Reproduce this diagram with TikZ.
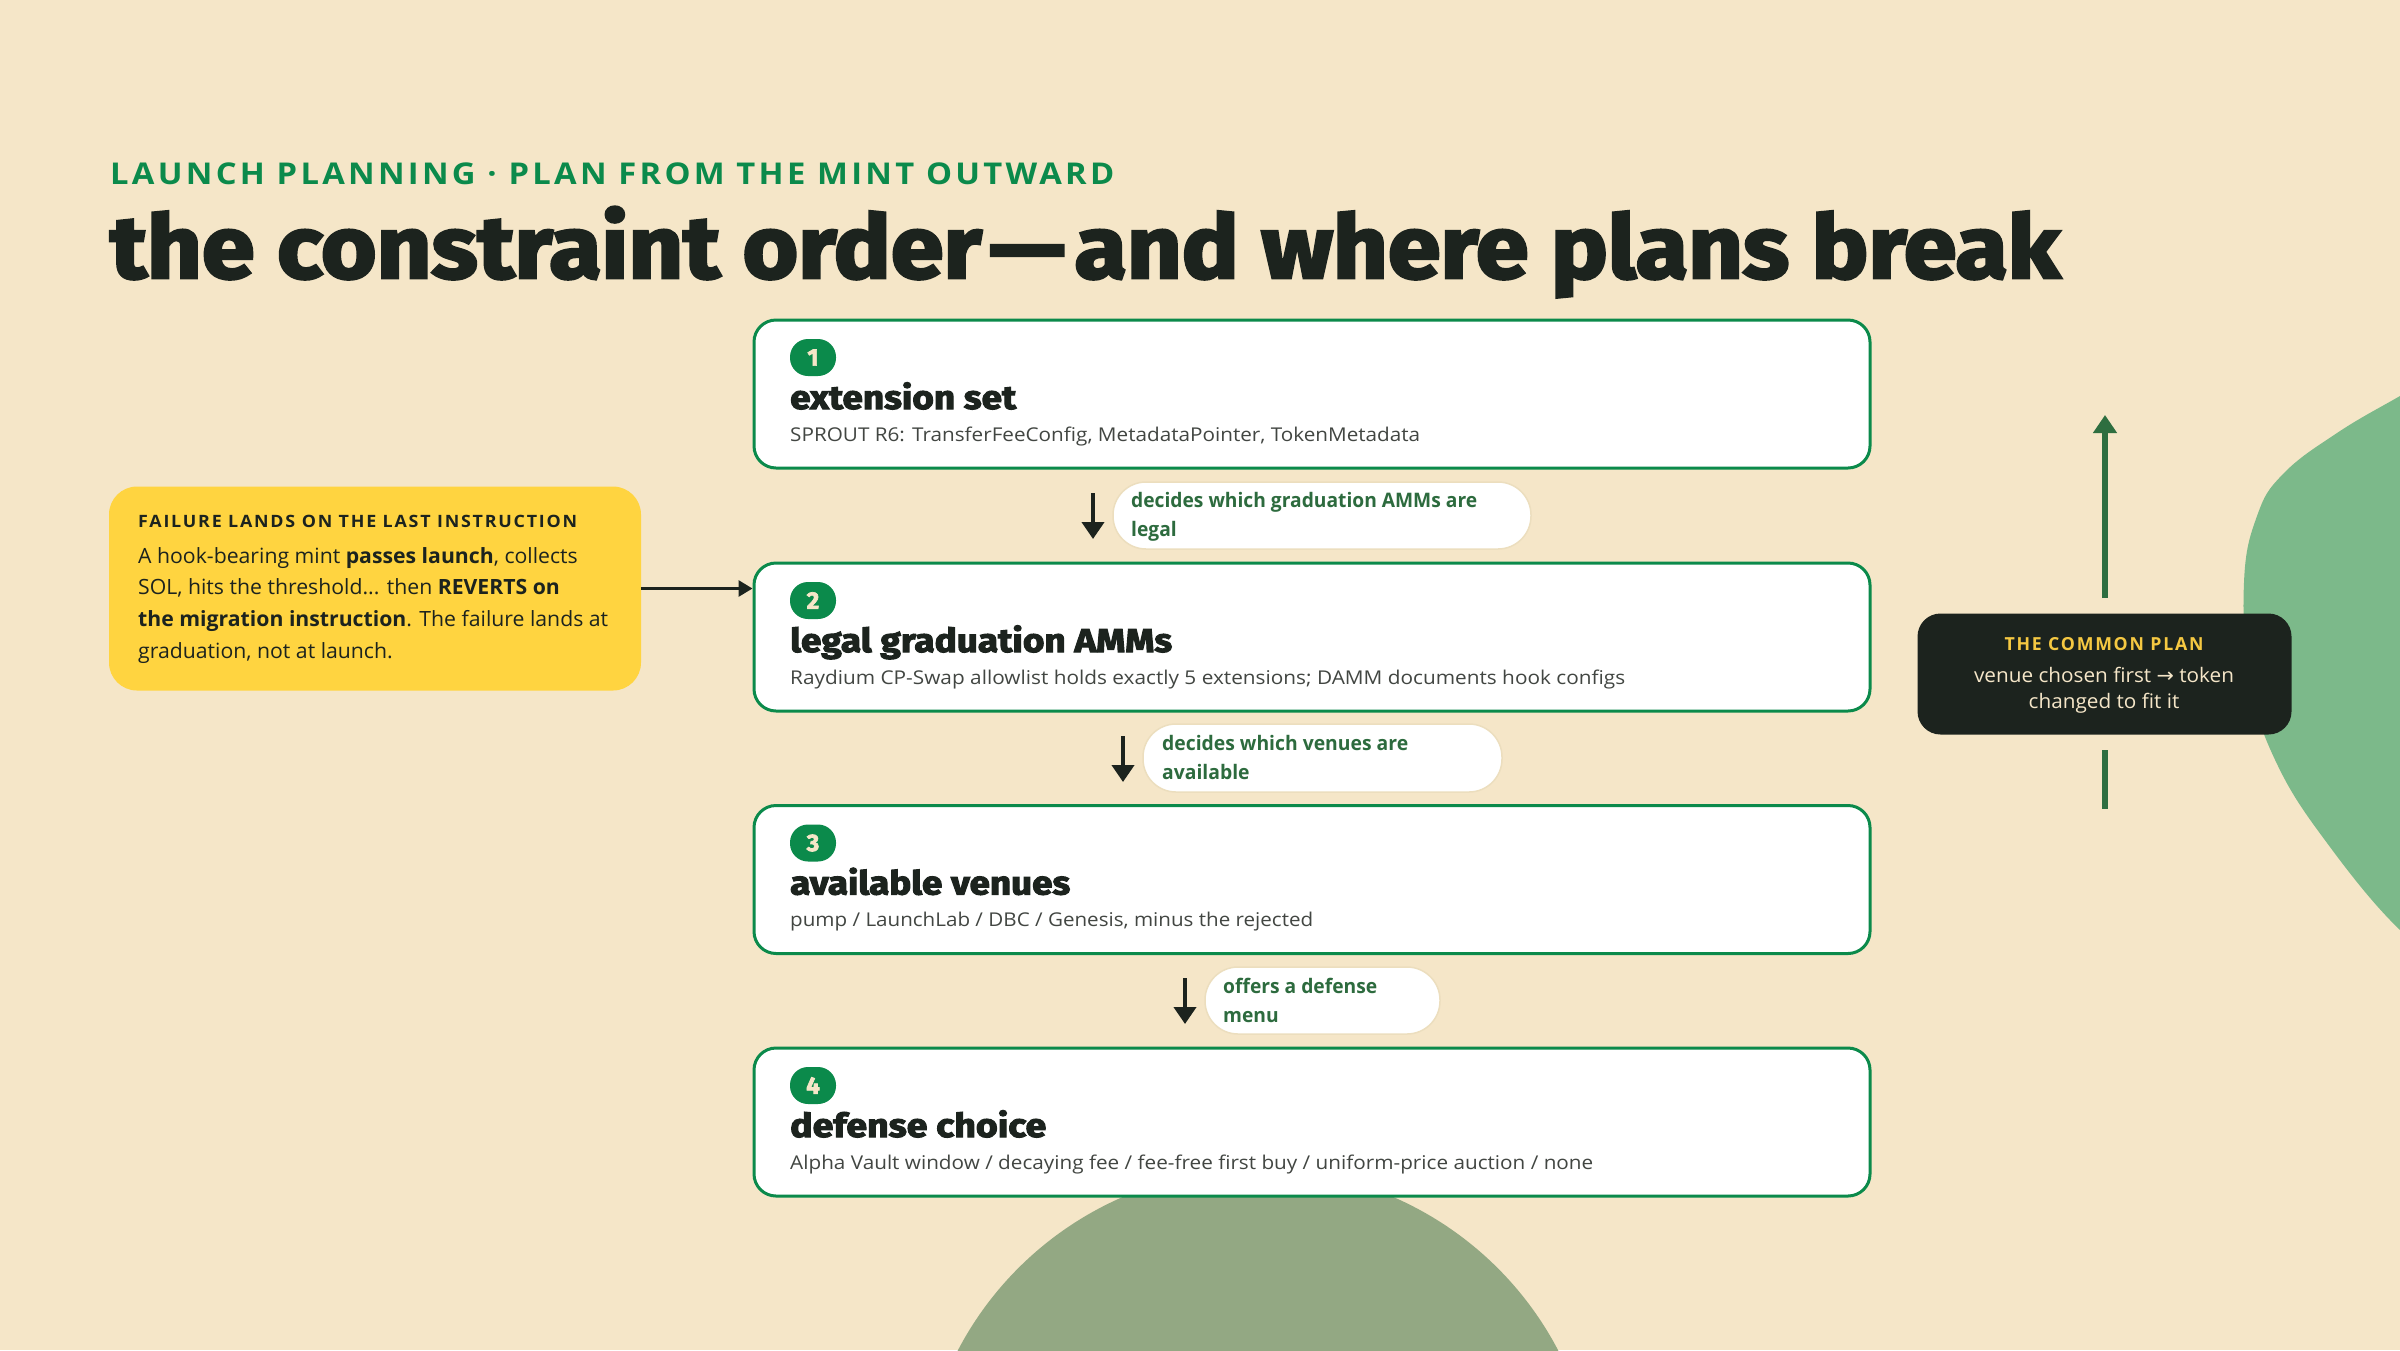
\documentclass[tikz,border=0pt]{standalone}
\usepackage{fontspec}
\usepackage{graphicx}
\usetikzlibrary{arrows.meta}
\setmainfont{Open Sans}
\newfontfamily\headfont{Fira Sans}[FakeBold=3]
\newfontfamily\capsfont{Open Sans}[LetterSpace=10]
\newfontfamily\symfont{DejaVu Sans}
\newcommand\fitw[2]{\resizebox{#1pt}{\height}{#2}}
\definecolor{bgcream}{RGB}{245,230,200}
\definecolor{boxgreen}{RGB}{11,138,75}
\definecolor{inkdark}{RGB}{28,35,30}
\definecolor{subgray}{RGB}{66,70,66}
\definecolor{labgreen}{RGB}{45,107,62}
\definecolor{arrgreen}{RGB}{46,110,64}
\definecolor{sunyellow}{RGB}{255,212,64}
\definecolor{plantitle}{RGB}{245,200,66}
\definecolor{blobgreen}{RGB}{124,185,138}
\definecolor{blobolive}{RGB}{147,168,131}
\definecolor{pilledge}{RGB}{236,222,190}
\tikzset{
  stepbox/.style={draw=boxgreen, line width=3pt, fill=white, rounded corners=22pt,
    minimum width=1116pt, minimum height=148pt, inner sep=0pt},
  badge/.style={fill=boxgreen, text=bgcream, rounded corners=18pt, minimum width=46pt,
    minimum height=37pt, inner sep=0pt, font=\headfont\bfseries\fontsize{24}{24}\selectfont},
  headtxt/.style={anchor=base west, inner sep=0pt, text=inkdark,
    font=\headfont\bfseries\fontsize{33}{36}\selectfont},
  subtxt/.style={anchor=base west, inner sep=0pt, text=subgray, font=\fontsize{19}{23}\selectfont},
  pill/.style={fill=white, draw=pilledge, line width=1.5pt, rounded corners=33pt, inner sep=0pt},
  pilltxt/.style={anchor=base west, inner sep=0pt, text=labgreen, font=\bfseries\fontsize{20}{29}\selectfont},
  darrow/.style={draw=inkdark, line width=4pt, -{Triangle[width=22pt,length=17pt]}},
  sidearrow/.style={draw=inkdark, line width=3pt, -{Triangle[width=16pt,length=14pt]}},
  uparrow/.style={draw=arrgreen, line width=6pt, -{Triangle[width=23pt,length=18pt]}},
  stub/.style={draw=arrgreen, line width=6pt},
}
\begin{document}
\begin{tikzpicture}[x=1pt,y=-1pt]
\fill[bgcream] (0,0) rectangle (2400,1350);
\useasboundingbox (0,0) rectangle (2400,1350);
% background blobs
\begin{scope}
\clip (0,0) rectangle (2400,1350);
\fill[blobgreen] plot[smooth, tension=0.7] coordinates {(2450,368) (2400,396) (2337,433) (2283,474) (2257,516) (2244,582) (2250,680) (2277,764) (2330,847) (2400,930) (2450,962)} -- (2500,962) -- (2500,368) -- cycle;
\fill[blobolive] (1258,1505) ellipse [x radius=338, y radius=336];
\end{scope}
% heading
\node[anchor=base west, inner sep=0pt, text=boxgreen, font=\capsfont\bfseries\fontsize{30}{36}\selectfont] (kicker) at (110,184)
  {\fitw{1004}{LAUNCH PLANNING · PLAN FROM THE MINT OUTWARD}};
\node[anchor=base west, inner sep=0pt, text=inkdark, font=\headfont\bfseries\fontsize{88}{100}\selectfont] (title) at (110,278)
  {\fitw{1950}{the constraint order\kern0.08em—\kern0.1em and where plans break}};
% step boxes
\node[stepbox] (s1) at (1312,394) {};
\node[stepbox] (s2) at (1312,637) {};
\node[stepbox] (s3) at (1312,879.5) {};
\node[stepbox] (s4) at (1312,1122) {};
\node[badge] (b1) at (813,357.5) {1};
\node[badge] (b2) at (813,600.5) {2};
\node[badge] (b3) at (813,843) {3};
\node[badge] (b4) at (813,1085.5) {4};
\node[headtxt] (h1) at (790,409) {\fitw{226}{extension set}};
\node[headtxt] (h2) at (790,652) {\fitw{382}{legal graduation AMMs}};
\node[headtxt] (h3) at (790,894.5) {\fitw{280}{available venues}};
\node[headtxt] (h4) at (790,1137) {\fitw{256}{defense choice}};
\node[subtxt] (t1) at (790,441) {\fitw{630}{SPROUT R6: TransferFeeConfig, MetadataPointer, TokenMetadata}};
\node[subtxt] (t2) at (790,684) {\fitw{835}{Raydium CP-Swap allowlist holds exactly 5 extensions; DAMM documents hook configs}};
\node[subtxt] (t3) at (790,926.5) {\fitw{523}{pump / LaunchLab / DBC / Genesis, minus the rejected}};
\node[subtxt] (t4) at (790,1169) {\fitw{803}{Alpha Vault window / decaying fee / fee-free first buy / uniform-price auction / none}};
% pills between boxes
\node[pill, minimum width=418pt, minimum height=67pt] (p1) at (1322,515.5) {};
\node[pill, minimum width=359pt, minimum height=68pt] (p2) at (1322.5,758) {};
\node[pill, minimum width=235pt, minimum height=67pt] (p3) at (1322.5,1000.5) {};
\node[pilltxt] (p1t) at (1131,507) {\fitw{346}{\begin{tabular}[t]{@{}l@{}}decides which graduation AMMs are\\legal\end{tabular}}};
\node[pilltxt] (p2t) at (1162,750) {\fitw{246}{\begin{tabular}[t]{@{}l@{}}decides which venues are\\available\end{tabular}}};
\node[pilltxt] (p3t) at (1223,993) {\fitw{154}{\begin{tabular}[t]{@{}l@{}}offers a defense\\menu\end{tabular}}};
\coordinate (a1s) at (1093,493); \coordinate (a1e) at (1093,539);
\coordinate (a2s) at (1123,736); \coordinate (a2e) at (1123,782);
\coordinate (a3s) at (1185,978); \coordinate (a3e) at (1185,1024);
\draw[darrow] (a1s) -- (a1e);
\draw[darrow] (a2s) -- (a2e);
\draw[darrow] (a3s) -- (a3e);
% failure note
\node[fill=sunyellow, rounded corners=28pt, minimum width=532pt, minimum height=204pt, inner sep=0pt] (fail) at (375,588.5) {};
\node[anchor=base west, inner sep=0pt, text=inkdark, font=\capsfont\bfseries\fontsize{17}{20}\selectfont] (failh) at (138,527)
  {\fitw{439}{FAILURE LANDS ON THE LAST INSTRUCTION}};
\node[anchor=base west, inner sep=0pt, text=inkdark, font=\fontsize{21}{31.7}\selectfont] (failb) at (138,563)
  {\fitw{470}{\begin{tabular}[t]{@{}l@{}}A hook-bearing mint \textbf{passes launch}, collects\\
  SOL, hits the threshold... then \textbf{REVERTS on}\\
  \textbf{the migration instruction}. The failure lands at\\
  graduation, not at launch.\end{tabular}}};
\draw[sidearrow] (fail.east) -- (fail.east -| s2.west);
% common plan
\node[fill=inkdark, rounded corners=23pt, minimum width=374pt, minimum height=121pt, inner sep=0pt] (plan) at (2104.5,674) {};
\node[anchor=base, inner sep=0pt, text=plantitle, font=\capsfont\bfseries\fontsize{18}{20}\selectfont] (planh) at (2104,650)
  {\fitw{199}{THE COMMON PLAN}};
\node[anchor=base, inner sep=0pt, text=bgcream, font=\fontsize{20}{26}\selectfont] (planb) at (2104,682)
  {\fitw{260}{\begin{tabular}[t]{@{}c@{}}venue chosen first {\symfont →} token\\changed to fit it\end{tabular}}};
\coordinate (upfrom) at (2105,598);
\coordinate (upto) at (2105,415);
\coordinate (stubtop) at (2105,750);
\coordinate (stubbot) at (2105,809);
\draw[uparrow] (upfrom) -- (upto);
\draw[stub] (stubtop) -- (stubbot);
\end{tikzpicture}
\end{document}
